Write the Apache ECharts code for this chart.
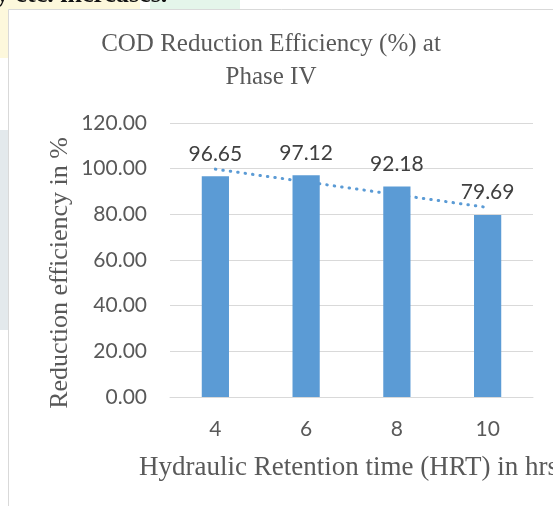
<!DOCTYPE html>
<html>
<head>
<meta charset="utf-8">
<script src="https://cdn.jsdelivr.net/npm/echarts@6/dist/echarts.min.js"></script>
<style>
html,body{margin:0;padding:0;background:#fff;}
#c{width:553px;height:506px;}
</style>
</head>
<body>
<div id="c"></div>
<script>
var categories = ['4', '6', '8', '10'];
var efficiency = [96.65, 97.12, 92.18, 79.69];
var trendline = [99.8, 94.2, 88.6, 83.0];
var yTicks = [0, 20, 40, 60, 80, 100, 120];
var titleLine1 = 'COD Reduction Efficiency (%) at';
var titleLine2 = 'Phase IV';
var yAxisName = 'Reduction efficiency in %';
var xAxisName = 'Hydraulic Retention time (HRT) in hrs';
var pageText = 'y etc. increases.';

var chart = echarts.init(document.getElementById('c'), null, {renderer: 'canvas'});
var grey = '#595959';
var serif = '"Liberation Serif", "Times New Roman", serif';
var sans = 'Lato, "Open Sans", sans-serif';

chart.setOption({
  animation: false,
  backgroundColor: '#ffffff',
  grid: {left: 170, right: 20, top: 123, bottom: 109, containLabel: false},
  xAxis: {
    type: 'category',
    data: categories,
    axisLine: {show: true, lineStyle: {color: '#d9d9d9', width: 1}},
    axisTick: {show: false},
    axisLabel: {color: grey, fontSize: 21, fontFamily: sans, margin: 22}
  },
  yAxis: {
    type: 'value',
    min: yTicks[0],
    max: yTicks[yTicks.length - 1],
    interval: 20,
    axisLine: {show: false},
    axisTick: {show: false},
    splitLine: {lineStyle: {color: '#d9d9d9', width: 1}},
    axisLabel: {color: grey, fontSize: 21, fontFamily: sans, margin: 23,
      formatter: function (v) { return v.toFixed(2); }}
  },
  series: [
    {
      type: 'line',
      data: trendline,
      z: 1,
      symbol: 'none',
      silent: true,
      lineStyle: {color: '#5B9BD5', width: 3, type: [0.5, 7], cap: 'round'}
    },
    {
      type: 'bar',
      data: efficiency,
      z: 2,
      barWidth: '30%',
      itemStyle: {color: '#5B9BD5'},
      label: {
        show: true, position: 'top', distance: 12,
        color: '#404040', fontSize: 21, fontFamily: sans,
        formatter: function (p) { return p.value.toFixed(2); }
      }
    }
  ],
  graphic: [
    {type: 'rect', shape: {x: 0, y: 0, width: 9, height: 58}, z: -3,
      style: {fill: '#fdf8dc'}},
    {type: 'rect', shape: {x: 0, y: 0, width: 140, height: 9}, z: -3,
      style: {fill: '#fdf8dc'}},
    {type: 'rect', shape: {x: 150, y: 0, width: 90, height: 9}, z: -3,
      style: {fill: '#e4f5ea'}},
    {type: 'rect', shape: {x: 0, y: 130, width: 9, height: 200}, z: -3,
      style: {fill: '#e3e9ec'}},
    {type: 'text', x: -4, y: -5, z: 0,
      style: {text: pageText, font: 'bold 26px ' + serif, fill: '#111', textVerticalAlign: 'middle'}},
    {type: 'rect', shape: {x: 8.5, y: 9.5, width: 700, height: 700}, z: -1,
      style: {fill: '#fff', stroke: '#d9d9d9', lineWidth: 1}},
    {type: 'text', x: 271, y: 44, z: 5,
      style: {text: titleLine1, font: '25px ' + serif, fill: grey, textAlign: 'center', textVerticalAlign: 'middle'}},
    {type: 'text', x: 271, y: 77, z: 5,
      style: {text: titleLine2, font: '25px ' + serif, fill: grey, textAlign: 'center', textVerticalAlign: 'middle'}},
    {type: 'text', x: 60, y: 273, rotation: Math.PI / 2, z: 5,
      style: {text: yAxisName, font: '26px ' + serif, fill: grey, textAlign: 'center', textVerticalAlign: 'middle'}},
    {type: 'text', x: 139, y: 468, z: 5,
      style: {text: xAxisName, font: '27px ' + serif, fill: grey, textAlign: 'left', textVerticalAlign: 'middle'}}
  ]
});
</script>
</body>
</html>
